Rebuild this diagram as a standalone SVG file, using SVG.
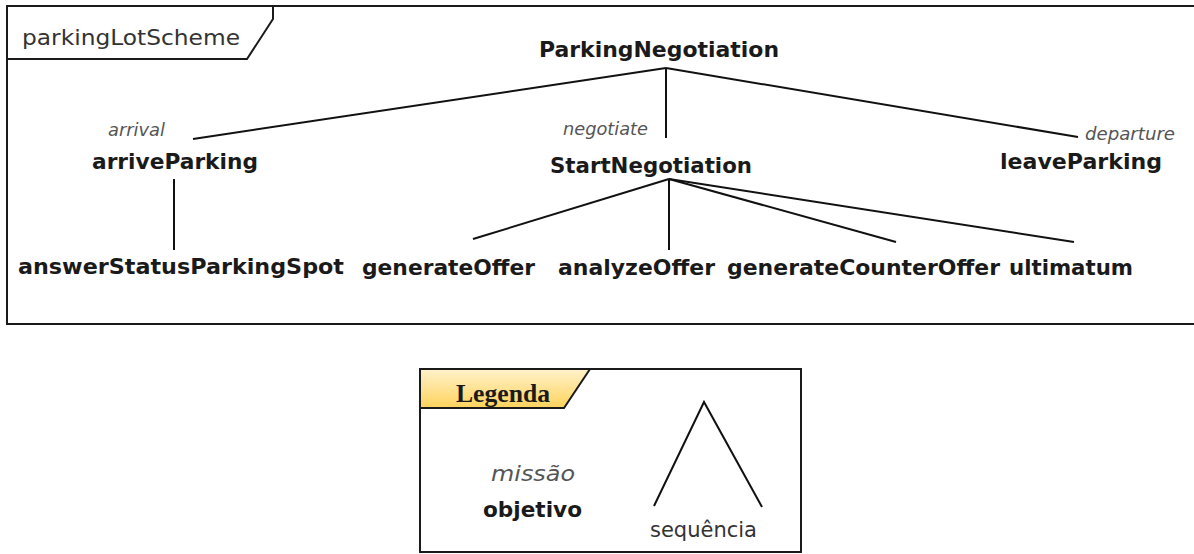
<svg xmlns="http://www.w3.org/2000/svg" width="1194" height="554" viewBox="0 0 1194 554">
<defs>
<linearGradient id="tabGrad" x1="0" y1="0" x2="0" y2="1">
<stop offset="0" stop-color="#fff2cc"/>
<stop offset="1" stop-color="#ffd35c"/>
</linearGradient>
<style>
.frame{fill:none;stroke:#1a1a1a;stroke-width:2}
.edge{fill:none;stroke:#111;stroke-width:2}
.goal{font-family:"DejaVu Sans",Verdana,sans-serif;font-weight:bold;font-size:21.5px;fill:#1a1a1a}
.mission{font-family:"DejaVu Sans",Verdana,sans-serif;font-style:italic;font-size:18px;fill:#555}
.plain{font-family:"DejaVu Sans",Verdana,sans-serif;font-size:21px;fill:#333}
.legtitle{font-family:"Liberation Serif","Times New Roman",serif;font-weight:bold;font-size:25px;fill:#1a1a1a}
</style>
</defs>
<rect width="1194" height="554" fill="#fff"/>

<g id="frame">
<rect class="frame" x="7" y="6" width="1200" height="318"/>
<path class="frame" d="M7,59 L247,59 L273,19 L273,6"/>
<text class="plain" x="22" y="45" textLength="218" lengthAdjust="spacingAndGlyphs">parkingLotScheme</text>
</g>

<g id="connectors">
<line class="edge" x1="666" y1="68" x2="193" y2="139"/>
<line class="edge" x1="666" y1="68" x2="666" y2="138"/>
<line class="edge" x1="666" y1="68" x2="1078" y2="137"/>
<line class="edge" x1="174" y1="179" x2="174" y2="250"/>
<line class="edge" x1="669" y1="179" x2="473" y2="239"/>
<line class="edge" x1="669" y1="179" x2="669" y2="250"/>
<line class="edge" x1="669" y1="179" x2="896" y2="242"/>
<line class="edge" x1="669" y1="179" x2="1074" y2="242"/>
</g>

<g id="ParkingNegotiation">
<text class="goal" x="539" y="57" textLength="240" lengthAdjust="spacingAndGlyphs">ParkingNegotiation</text>
</g>
<g id="arriveParking">
<text class="mission" x="108" y="136" textLength="57" lengthAdjust="spacingAndGlyphs">arrival</text>
<text class="goal" x="92" y="169" textLength="166" lengthAdjust="spacingAndGlyphs">arriveParking</text>
</g>
<g id="StartNegotiation">
<text class="mission" x="563" y="135" textLength="85" lengthAdjust="spacingAndGlyphs">negotiate</text>
<text class="goal" x="550" y="173" textLength="202" lengthAdjust="spacingAndGlyphs">StartNegotiation</text>
</g>
<g id="leaveParking">
<text class="mission" x="1085" y="140" textLength="90" lengthAdjust="spacingAndGlyphs">departure</text>
<text class="goal" x="1000" y="169" textLength="162" lengthAdjust="spacingAndGlyphs">leaveParking</text>
</g>
<g id="answerStatusParkingSpot">
<text class="goal" x="18" y="274" textLength="326" lengthAdjust="spacingAndGlyphs">answerStatusParkingSpot</text>
</g>
<g id="generateOffer">
<text class="goal" x="362" y="275" textLength="173" lengthAdjust="spacingAndGlyphs">generateOffer</text>
</g>
<g id="analyzeOffer">
<text class="goal" x="558" y="275" textLength="157" lengthAdjust="spacingAndGlyphs">analyzeOffer</text>
</g>
<g id="generateCounterOffer">
<text class="goal" x="727" y="275" textLength="273" lengthAdjust="spacingAndGlyphs">generateCounterOffer</text>
</g>
<g id="ultimatum">
<text class="goal" x="1009" y="275" textLength="124" lengthAdjust="spacingAndGlyphs">ultimatum</text>
</g>

<g id="legend">
<rect class="frame" x="420" y="369" width="381" height="183"/>
<path d="M420,369 L590,369 L564,408 L420,408 Z" fill="url(#tabGrad)" stroke="#1a1a1a" stroke-width="2"/>
<text class="legtitle" x="456" y="402" textLength="94" lengthAdjust="spacingAndGlyphs">Legenda</text>
<text class="mission" x="491" y="481" style="font-size:21px" textLength="84" lengthAdjust="spacingAndGlyphs">missão</text>
<text class="goal" x="483" y="517" textLength="99" lengthAdjust="spacingAndGlyphs">objetivo</text>
<polyline class="edge" points="654,506 704,402 762,507"/>
<text class="plain" x="650" y="537" textLength="107" lengthAdjust="spacingAndGlyphs">sequência</text>
</g>
</svg>
